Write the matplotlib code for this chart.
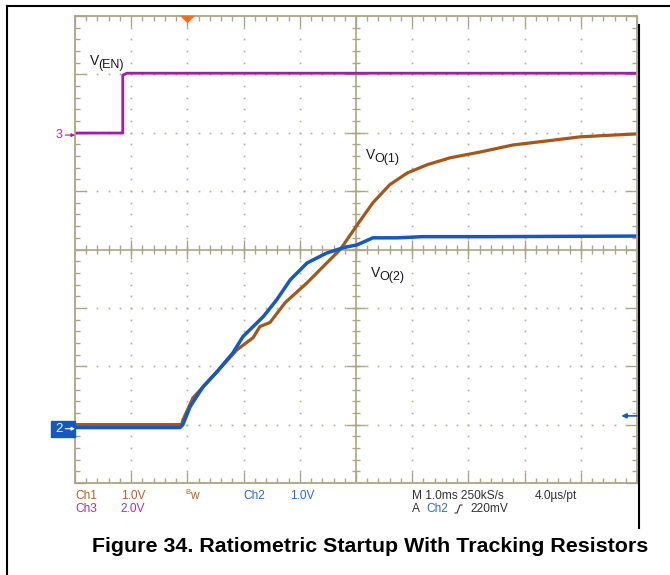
import numpy as np
import matplotlib
matplotlib.use("Agg")
import matplotlib.pyplot as plt
from matplotlib.lines import Line2D
from matplotlib.patches import Rectangle
import matplotlib.transforms as mtransforms

W, H = 670, 575

# V(EN), ch3 - time in ms (1 ms/div, left edge = 0), volts
en_t = [0.0, 0.85, 0.85, 0.92, 10.0]
en_v = [0.07, 0.07, 2.05, 2.12, 2.12]

# VO(1), ch1
vo1_t = [0.0, 1.90, 1.92, 2.10, 2.35, 2.88, 3.17, 3.29, 3.47, 3.74, 4.13, 4.48,
         4.72, 5.02, 5.30, 5.60, 5.91, 6.26, 6.67, 7.21, 7.79, 8.40, 8.99, 9.57, 10.0]
vo1_v = [0.07, 0.07, 0.15, 0.53, 0.79, 1.35, 1.56, 1.75, 1.82, 2.16, 2.50, 2.84,
         3.07, 3.49, 3.87, 4.18, 4.38, 4.52, 4.64, 4.74, 4.86, 4.93, 5.00, 5.03, 5.05]

# VO(2), ch2
vo2_t = [0.0, 1.87, 1.92, 2.05, 2.28, 2.53, 2.81, 2.99, 3.35, 3.59, 3.83, 4.13,
         4.48, 4.77, 5.02, 5.30, 5.73, 6.19, 7.38, 10.0]
vo2_v = [0.02, 0.02, 0.07, 0.38, 0.72, 0.98, 1.30, 1.58, 1.92, 2.21, 2.55, 2.84,
         3.01, 3.10, 3.15, 3.27, 3.27, 3.29, 3.29, 3.30]

# scope settings: volts/div and ground position (div from centre)
ch1_scale, ch1_off = 1.0, -3.07
ch2_scale, ch2_off = 1.0, -3.07
ch3_scale, ch3_off = 2.0, 1.96
trig_time = 2.0
trig_level = 0.22

brown = "#A5561A"
blue = "#1458C0"
purple = "#A21CA6"
tan = "#ADA585"
dotc = "#B5AE90"


def fx(x):
    return x / W


def fy(y):
    return 1 - y / H


fig = plt.figure(figsize=(W / 100, H / 100), dpi=100)
ax = fig.add_axes([fx(75), fy(483), 562 / W, 467 / H])
ax.set_xlim(0, 10)
ax.set_ylim(-4, 4)

# frame + ticks
ax.set_xticks(range(11))
ax.set_yticks(range(-4, 5))
ax.set_xticks(np.arange(0, 10.01, 0.2), minor=True)
ax.set_yticks(np.arange(-4, 4.01, 0.2), minor=True)
ax.tick_params(which="both", direction="in", top=True, right=True,
               labelbottom=False, labelleft=False, color=tan, width=1)
ax.tick_params(which="major", length=8)
ax.tick_params(which="minor", length=3.6)
for s in ax.spines.values():
    s.set_color(tan)
    s.set_linewidth(1.3)

# dotted graticule
ys = np.arange(-3.8, 3.81, 0.2)
xs = np.arange(0.2, 9.81, 0.2)
for xv in [1, 2, 3, 4, 6, 7, 8, 9]:
    ax.plot([xv] * len(ys), ys, ls="none", marker="s", ms=1.2, mew=0, color=dotc)
for yv in [-3, -2, -1, 1, 2, 3]:
    ax.plot(xs, [yv] * len(xs), ls="none", marker="s", ms=1.2, mew=0, color=dotc)

# centre crosshair
ax.axhline(0, color=tan, lw=1.2)
ax.axvline(5, color=tan, lw=1.2)
ax.vlines(xs, -0.075, 0.075, color=tan, lw=1)
ax.hlines(ys, 5 - 0.075, 5 + 0.075, color=tan, lw=1)
ax.vlines(range(1, 10), -0.16, 0.16, color=tan, lw=1)
ax.hlines(range(-3, 4), 5 - 0.17, 5 + 0.17, color=tan, lw=1)

# traces
ax.plot(en_t, np.array(en_v) / ch3_scale + ch3_off, color=purple, lw=2.0)
ax.plot(vo1_t, np.array(vo1_v) / ch1_scale + ch1_off, color=brown, lw=2.3)
ax.plot(vo2_t, np.array(vo2_v) / ch2_scale + ch2_off, color=blue, lw=2.5)

# trace labels
lab = dict(family="Liberation Sans", color="#1a1a1a")
fig.text(fx(90), fy(65), "V", fontsize=10, **lab)
fig.text(fx(98.5), fy(68), "(EN)", fontsize=9, **lab)
fig.text(fx(366), fy(159), "V", fontsize=10, **lab)
fig.text(fx(374.5), fy(162), "O(1)", fontsize=9, **lab)
fig.text(fx(371), fy(277), "V", fontsize=10, **lab)
fig.text(fx(379.5), fy(280), "O(2)", fontsize=9, **lab)

# trigger position marker
ax.plot(trig_time, 3.955, marker=[(-1, 0.5), (1, 0.5), (0, -0.5)], ms=11,
        color="#FF6A1A", mew=0, clip_on=False, zorder=5)

# trigger level arrow
ax.annotate("", xy=(9.72, ch2_off + trig_level / ch2_scale),
            xytext=(10.0, ch2_off + trig_level / ch2_scale),
            arrowprops=dict(arrowstyle="-|>", color=blue, lw=1.2, mutation_scale=7,
                            shrinkA=0, shrinkB=0))

# ground markers
blend = mtransforms.blended_transform_factory(ax.transAxes, ax.transData)
ax.annotate("", xy=(0, ch3_off), xycoords=blend, xytext=(-7, 0),
            textcoords="offset points", annotation_clip=False,
            arrowprops=dict(arrowstyle="-|>", color=purple, lw=0.8,
                            mutation_scale=5, shrinkA=0, shrinkB=0))
ax.text(-16 / 562, ch3_off, "3", transform=blend, color="#B030B0", fontsize=9,
        family="Liberation Sans", ha="center", va="center")
ax.add_patch(Rectangle((-24 / 562, ch2_off - 8 / 58.4), 24 / 562, 16 / 58.4,
                       transform=blend, color=blue, clip_on=False, zorder=6))
ax.text(-16 / 562, ch2_off, "2", transform=blend, color="white", fontsize=9.5,
        family="Liberation Sans", ha="center", va="center", zorder=7)
ax.annotate("", xy=(0, ch2_off), xycoords=blend, xytext=(-7, 0),
            textcoords="offset points", annotation_clip=False,
            arrowprops=dict(arrowstyle="-|>", color="white", lw=0.8,
                            mutation_scale=5, shrinkA=0, shrinkB=0), zorder=8)

# scope readout
ro = dict(family="Liberation Sans", fontsize=8.6, va="center")
fig.text(fx(75), fy(496), "Ch1", color="#B0652A", **ro)
fig.text(fx(121), fy(496), "1.0V", color="#B0652A", **ro)
fig.text(fx(185), fy(492), "B", color="#B0652A", family="Liberation Sans", fontsize=5.5, va="center")
fig.text(fx(190), fy(496), "w", color="#B0652A", **ro)
fig.text(fx(243), fy(496), "Ch2", color="#2A6ACF", **ro)
fig.text(fx(290), fy(496), "1.0V", color="#2A6ACF", **ro)
fig.text(fx(412), fy(496), "M 1.0ms 250kS/s", color="#333333", **ro)
fig.text(fx(535), fy(496), "4.0\u00b5s/pt", color="#333333", **ro)
fig.text(fx(75), fy(509), "Ch3", color="#B030B0", **ro)
fig.text(fx(120), fy(509), "2.0V", color="#B030B0", **ro)
fig.text(fx(412), fy(509), "A", color="#333333", **ro)
fig.text(fx(426), fy(509), "Ch2", color="#2A6ACF", **ro)
fig.text(fx(470), fy(509), "220mV", color="#333333", **ro)
fig.add_artist(Line2D([fx(455), fx(457), fx(460), fx(462)],
                      [fy(513), fy(513), fy(505), fy(505)], color="#333333", lw=0.8))

# page borders
fig.add_artist(Line2D([fx(7), 1], [fy(6), fy(6)], color="black", lw=1.5))
fig.add_artist(Line2D([fx(7), fx(7)], [fy(6), 0], color="black", lw=1.5))
fig.add_artist(Line2D([fx(639), fx(639)], [fy(25), fy(528)], color="black", lw=1.5))

fig.text(fx(370.5), fy(547), "Figure 34. Ratiometric Startup With Tracking Resistors",
         family="Liberation Sans", weight="bold", fontsize=15.4, ha="center", va="center")

fig.savefig("out.png", dpi=100)
